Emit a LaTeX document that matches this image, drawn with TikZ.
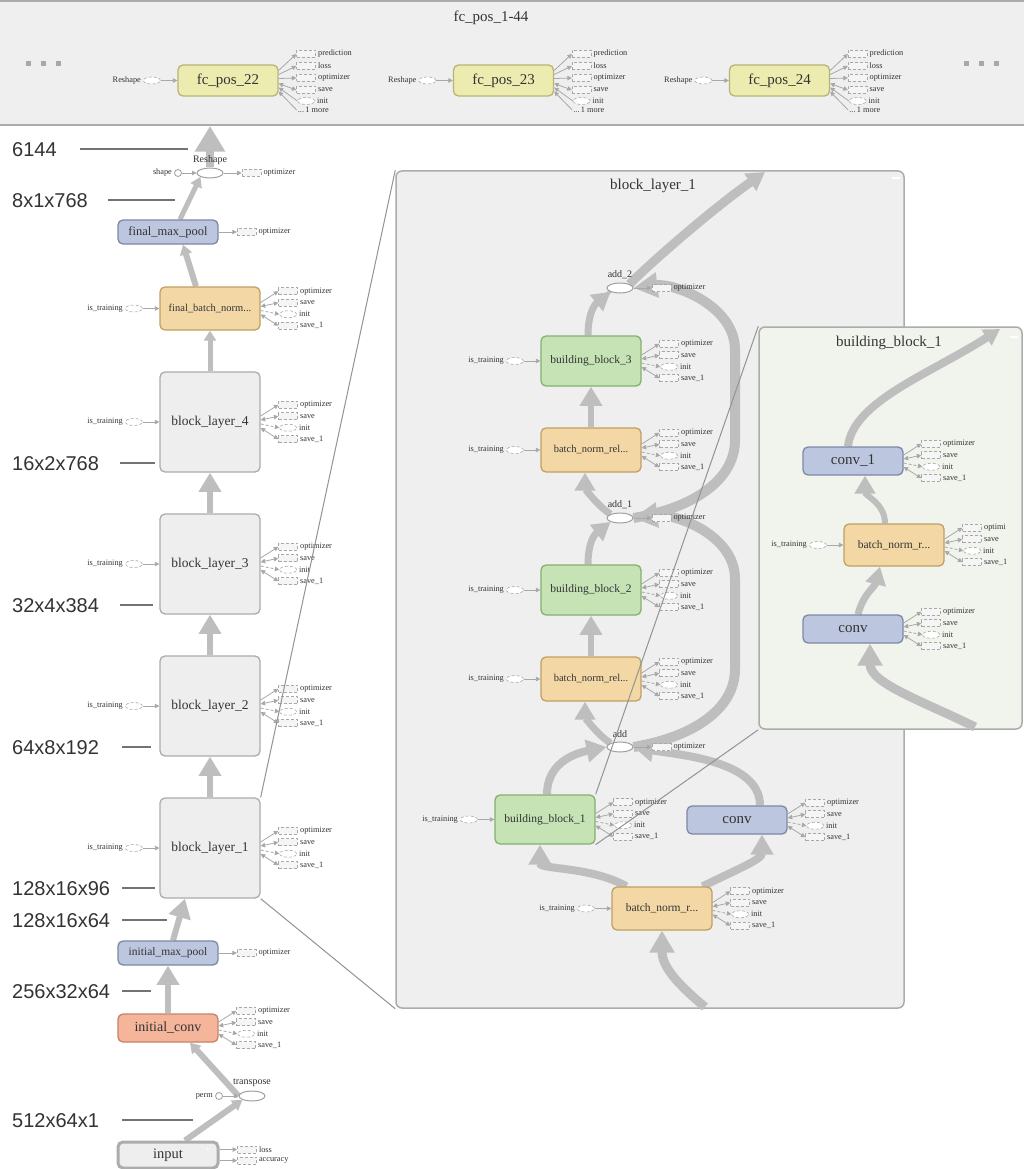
\documentclass[tikz,border=0pt]{standalone}
\usepackage{fontspec}
\setmainfont{Liberation Serif}
\newfontfamily\dimfont{Liberation Sans}
\usetikzlibrary{positioning,calc,arrows.meta,shapes.geometric}
\pgfdeclarelayer{back}
\pgfdeclarelayer{edges}
\pgfdeclarelayer{front}
\pgfsetlayers{back,edges,main,front}

\definecolor{edgegray}{RGB}{190,190,190}
\definecolor{auxgray}{RGB}{168,168,168}
\definecolor{textgray}{RGB}{51,51,51}
\definecolor{panelfill}{RGB}{239,239,239}
\definecolor{bbfill}{RGB}{240,244,237}
\definecolor{metafill}{RGB}{238,238,238}
\definecolor{metadraw}{RGB}{172,172,172}
\definecolor{bluefill}{RGB}{188,198,223}
\definecolor{bluedraw}{RGB}{124,137,166}
\definecolor{tanfill}{RGB}{243,216,165}
\definecolor{tandraw}{RGB}{192,160,100}
\definecolor{greenfill}{RGB}{197,227,181}
\definecolor{greendraw}{RGB}{134,176,110}
\definecolor{salmonfill}{RGB}{245,181,155}
\definecolor{salmondraw}{RGB}{200,130,103}
\definecolor{fcfill}{RGB}{236,236,176}
\definecolor{fcdraw}{RGB}{184,180,116}

\tikzset{
  opnode/.style={draw, rounded corners=5pt, line width=1.3pt, minimum width=100pt, inner sep=0pt, text=textgray},
  metaop/.style={opnode, fill=metafill, draw=metadraw, minimum height=100pt, font=\fontsize{13.5}{15}\selectfont},
  blueop/.style={opnode, fill=bluefill, draw=bluedraw},
  tanop/.style={opnode, fill=tanfill, draw=tandraw},
  greenop/.style={opnode, fill=greenfill, draw=greendraw},
  salmonop/.style={opnode, fill=salmonfill, draw=salmondraw},
  fcop/.style={opnode, fill=fcfill, draw=fcdraw, minimum height=31pt, font=\fontsize{15}{16}\selectfont},
  panel/.style={draw=metadraw, fill=panelfill, rounded corners=6pt, line width=1.5pt, inner sep=0pt},
  title/.style={font=\fontsize{15}{16}\selectfont, text=textgray, inner sep=0pt},
  opname/.style={font=\fontsize{10}{11}\selectfont, text=textgray, inner sep=0pt},
  auxbox/.style={draw=auxgray, densely dashed, fill=white!96!black, minimum width=19pt, minimum height=7pt, inner sep=0pt, line width=0.6pt},
  auxoval/.style={ellipse, draw=auxgray, densely dashed, fill=white, minimum width=17pt, minimum height=7pt, inner sep=0pt, line width=0.6pt},
  auxlbl/.style={font=\fontsize{8.3}{9}\selectfont, text=textgray, inner sep=1pt},
  auxarrow/.style={draw=auxgray, line width=0.8pt, >={Triangle[length=4.5pt,width=4.5pt]}},
  tipout/.style={->}, tipboth/.style={<->}, tipin/.style={<-},
  opoval/.style={ellipse, draw=gray!75, fill=white, minimum width=26pt, minimum height=10pt, inner sep=0pt, line width=1pt},
  constdot/.style={circle, draw=gray!75, fill=white, minimum size=7pt, inner sep=0pt, line width=0.8pt},
  flow/.style={draw=edgegray, line width=#1, -{Triangle[length=0pt 3.2, width=0pt 3.6]}},
  flow/.default=6pt,
  smallhead/.style={-{Triangle[length=10pt,width=12pt]}},
  dimlbl/.style={font=\dimfont\fontsize{20}{22}\selectfont, text=textgray, anchor=west, inner sep=0pt},
  dimline/.style={draw=gray!90!black, line width=1.5pt},
  zoomline/.style={draw=gray!85, line width=1pt},
}

% is_training style input on the left of a node
\newcommand{\feedin}[2]{%
  \node[auxoval] (#1-tr) at ($(#1.west)+(-25.5,0)$) {};
  \node[auxlbl, left=1pt of #1-tr] {#2};
  \draw[auxarrow, ->] (#1-tr) -- (#1.west);
}
% one optimizer output
\newcommand{\auxone}[1]{%
  \node[auxbox] (#1-opt) at ($(#1.east)+(28,0)$) {};
  \node[auxlbl, right=1pt of #1-opt] {optimizer};
  \draw[auxarrow, ->] (#1.east) -- (#1-opt.west);
}
% the four usual outputs
\newcommand{\auxfour}[2][optimizer]{%
  \foreach \auxname/\auxshape/\auxtip/\auxdash [count=\i from 0] in
    {#1/auxbox/tipout/solid, save/auxbox/tipboth/solid, init/auxoval/tipout/densely dashed, save\_1/auxbox/tipboth/solid}{%
    \node[\auxshape] (#2-a\i) at ($(#2.east)+(27.5,{(\i-1.5)*11.5})$) {};
    \node[auxlbl, right=1pt of #2-a\i] {\auxname};
    \draw[auxarrow, \auxtip, \auxdash] ($(#2.east)+(0,{(\i-1.5)*4})$) -- (#2-a\i.west);
  }%
}
% outputs of the fc_pos nodes
\newcommand{\auxfc}[1]{%
  \foreach \auxname/\auxshape/\auxtip/\auxdy/\auxsy [count=\i] in
    {prediction/auxbox/tipout/-26.5/-10, loss/auxbox/tipout/-14.5/-6, optimizer/auxbox/tipout/-2.5/-2,
     save/auxbox/tipboth/9.5/3, init/auxoval/tipin/20.5/7}{%
    \node[\auxshape] (#1-a\i) at ($(#1.east)+(27.5,\auxdy)$) {};
    \node[auxlbl, right=1pt of #1-a\i] {\auxname};
    \draw[auxarrow, \auxtip] ($(#1.east)+(0,\auxsy)$) -- (#1-a\i.west);
  }%
  \node[auxlbl, anchor=west] (#1-more) at ($(#1.east)+(18,29.5)$) {...\,1 more};
  \draw[auxarrow, <-] ($(#1.east)+(0,11)$) -- (#1-more.west);
}

\begin{document}
\begin{tikzpicture}[x=1pt,y=-1pt]
\useasboundingbox (0,0) rectangle (1024,1169);

% backgrounds
\begin{pgfonlayer}{back}
  \fill[white] (0,0) rectangle (1024,1169);
  \fill[panelfill] (0,1) rectangle (1024,125);
  \draw[metadraw, line width=2pt] (0,1) -- (1024,1) (0,125) -- (1024,125);
  \node[panel, minimum width=508pt, minimum height=837pt] (blpanel) at (650,589.5) {};
  \node[panel, fill=bbfill, minimum width=263pt, minimum height=402pt] (bbpanel) at (890.5,528) {};
\end{pgfonlayer}

\coordinate (bandbot) at (210,126);
\coordinate (blout) at (765,172);
\coordinate (blin) at (705,1007);
\coordinate (bbout) at (1000,329);
\coordinate (bbin) at (975,727);

% top band
\node[title] (bandtitle) at (491,18) {fc\_pos\_1-44};
\foreach \x in {28,43,58,966,981,996} \fill[auxgray] (\x-2.5,61.5) rectangle ++(5,5);
\node[fcop] (fc22) at (228,80.5) {fc\_pos\_22};
\node[fcop] (fc23) at (503.5,80.5) {fc\_pos\_23};
\node[fcop] (fc24) at (779.5,80.5) {fc\_pos\_24};
\foreach \n in {fc22,fc23,fc24} {\feedin{\n}{Reshape}\auxfc{\n}}

% tensor sizes
\foreach \dimtxt/\y/\xa/\xb [count=\k] in {6144/150/80/188, 8x1x768/201/108/175, 16x2x768/464/120/155,
    32x4x384/606/120/153, 64x8x192/748/122/151, 128x16x96/889/122/155, 128x16x64/921/122/167,
    256x32x64/992/122/151, 512x64x1/1121/122/193}{
  \node[dimlbl] (dim\k) at (12,\y) {\dimtxt};
  \draw[dimline] (\xa,\y-1) -- (\xb,\y-1);
}

% main column
\node[opoval] (reshape) at (210,173) {};
\node[opname] (reshapelbl) at (210,160) {Reshape};
\node[constdot] (shape) at (178,173) {};
\node[auxlbl, left=1pt of shape] (shapelbl) {shape};
\draw[auxarrow, ->] (shape) -- (reshape);
\auxone{reshape}

\node[blueop, minimum height=24pt, font=\fontsize{12.5}{14}\selectfont] (fmp) at (168,232) {final\_max\_pool};
\auxone{fmp}
\node[tanop, minimum height=43pt, font=\fontsize{10.5}{12}\selectfont] (fbn) at (210,308.5) {final\_batch\_norm...};
\feedin{fbn}{is\_training}
\auxfour{fbn}
\foreach \n/\y in {4/422,3/564,2/706,1/848}{
  \node[metaop] (bl\n) at (210,\y) {block\_layer\_\n};
  \feedin{bl\n}{is\_training}
  \auxfour{bl\n}
}
\node[blueop, minimum height=24pt, font=\fontsize{11.5}{13}\selectfont] (imp) at (168,953) {initial\_max\_pool};
\auxone{imp}
\node[salmonop, minimum height=28pt, font=\fontsize{14}{15}\selectfont] (ic) at (168,1028) {initial\_conv};
\auxfour{ic}
\node[opoval] (transpose) at (252,1096) {};
\node[opname] (transposelbl) at (252,1083) {transpose};
\node[constdot] (perm) at (219,1096) {};
\node[auxlbl, left=1pt of perm] (permlbl) {perm};
\draw[auxarrow, ->] (perm) -- (transpose);
\node[metaop, minimum height=26pt, line width=3pt, draw=gray!65, font=\fontsize{14.5}{16}\selectfont] (input) at (168,1155) {input};
\node[text=white, font=\fontsize{9}{9}\selectfont, inner sep=0pt] (inputplus) at (208,1150) {+};
\foreach \auxname/\dy [count=\i] in {loss/-5.5, accuracy/5.5}{
  \node[auxbox] (input-a\i) at ($(input.east)+(27.5,\dy)$) {};
  \node[auxlbl, right=1pt of input-a\i] {\auxname};
  \draw[auxarrow, ->] ($(input.east)+(0,\dy)$) -- (input-a\i.west);
}

% block_layer_1 panel
\node[title] (bltitle) at (653,186) {block\_layer\_1};
\draw[white, line width=1.5pt] (892,178) -- (900,178);
\node[opoval] (add2) at (620,288) {};
\node[opname] (add2lbl) at (620,275) {add\_2};
\auxone{add2}
\node[greenop, minimum height=50pt, font=\fontsize{11.5}{13}\selectfont] (bb3) at (591,361) {building\_block\_3};
\feedin{bb3}{is\_training}
\auxfour{bb3}
\node[tanop, minimum height=44pt, font=\fontsize{10.5}{12}\selectfont] (bnrA) at (591,450) {batch\_norm\_rel...};
\feedin{bnrA}{is\_training}
\auxfour{bnrA}
\node[opoval] (add1) at (620,518) {};
\node[opname] (add1lbl) at (620,505) {add\_1};
\auxone{add1}
\node[greenop, minimum height=50pt, font=\fontsize{11.5}{13}\selectfont] (bb2) at (591,590) {building\_block\_2};
\feedin{bb2}{is\_training}
\auxfour{bb2}
\node[tanop, minimum height=44pt, font=\fontsize{10.5}{12}\selectfont] (bnrB) at (591,679) {batch\_norm\_rel...};
\feedin{bnrB}{is\_training}
\auxfour{bnrB}
\node[opoval] (add) at (620,747) {};
\node[opname] (addlbl) at (620,734) {add};
\auxone{add}
\node[greenop, minimum height=49pt, font=\fontsize{11.5}{13}\selectfont] (bb1) at (545,819.5) {building\_block\_1};
\feedin{bb1}{is\_training}
\auxfour{bb1}
\node[blueop, minimum height=28pt, font=\fontsize{15}{16}\selectfont] (convA) at (737,820) {conv};
\auxfour{convA}
\node[tanop, minimum height=43pt, font=\fontsize{11.5}{13}\selectfont] (bnrC) at (662,908.5) {batch\_norm\_r...};
\feedin{bnrC}{is\_training}
\auxfour{bnrC}

% building_block_1 panel
\node[title] (bbtitle) at (889,343) {building\_block\_1};
\draw[white, line width=1.5pt] (1010,337) -- (1018,337);
\node[blueop, minimum height=28pt, font=\fontsize{15}{16}\selectfont] (conv1) at (853,461) {conv\_1};
\auxfour{conv1}
\node[tanop, minimum height=42pt, font=\fontsize{11.5}{13}\selectfont] (bnrD) at (894,545) {batch\_norm\_r...};
\feedin{bnrD}{is\_training}
\auxfour[optimi]{bnrD}
\node[blueop, minimum height=28pt, font=\fontsize{15}{16}\selectfont] (conv0) at (853,629) {conv};
\auxfour{conv0}

% data flow
\begin{pgfonlayer}{edges}
  \draw[flow=8pt] (reshape.north) -- (bandbot);
  \draw[flow=5pt, smallhead] ([xshift=12pt]fmp.north) -- (reshape.south west);
  \draw[flow=6pt, smallhead] ([xshift=-14pt]fbn.north) -- ([xshift=15pt]fmp.south);
  \draw[flow=5pt, smallhead] (bl4.north) -- (fbn.south);
  \draw[flow] (bl3.north) -- (bl4.south);
  \draw[flow] (bl2.north) -- (bl3.south);
  \draw[flow] (bl1.north) -- (bl2.south);
  \draw[flow] ([xshift=5pt]imp.north) -- ([xshift=-25pt]bl1.south);
  \draw[flow] (ic.north) -- (imp.south);
  \draw[flow=6pt, smallhead] (transpose.west) -- ([xshift=22pt]ic.south);
  \draw[flow=6pt, smallhead] ([xshift=17pt]input.north) -- (transpose.south west);

  \draw[flow=9pt, -{Triangle[length=18pt,width=20pt]}] (add2.north east) .. controls +(25,-25) and +(-50,35) .. (blout);
  \draw[flow=7pt, -{Triangle[length=18pt,width=20pt]}] ([xshift=-3pt]bb3.north) .. controls +(0,-30) and +(-10,8) .. (add2.south west);
  \draw[flow] (bnrA.north) -- (bb3.south);
  \draw[flow=7pt, -{Triangle[length=18pt,width=20pt]}] (add1.north west) .. controls +(-15,-10) and +(0,15) .. ([xshift=-6pt]bnrA.south);
  \draw[flow=10pt, -{Triangle[length=24pt,width=24pt]}] (add1.east) .. controls +(60,-10) and +(0,40) .. (735,440) -- (735,350) .. controls +(0,-45) and +(40,-5) .. (add2.east);
  \draw[flow=7pt, -{Triangle[length=18pt,width=20pt]}] ([xshift=-3pt]bb2.north) .. controls +(0,-30) and +(-10,8) .. (add1.south west);
  \draw[flow] (bnrB.north) -- (bb2.south);
  \draw[flow=7pt, -{Triangle[length=18pt,width=20pt]}] (add.north west) .. controls +(-15,-10) and +(0,15) .. ([xshift=-6pt]bnrB.south);
  \draw[flow=10pt, -{Triangle[length=24pt,width=24pt]}] (add.east) .. controls +(60,-10) and +(0,40) .. (735,669) -- (735,579) .. controls +(0,-45) and +(40,-5) .. (add1.east);
  \draw[flow=8pt, -{Triangle[length=20pt,width=22pt]}] ([xshift=2pt]bb1.north) .. controls +(0,-35) and +(-25,5) .. (add.west);
  \draw[flow=8pt, -{Triangle[length=20pt,width=22pt]}] ([xshift=23pt]convA.north) .. controls +(0,-45) and +(45,8) .. (add.east);
  \draw[flow=8pt, -{Triangle[length=20pt,width=22pt]}] ([xshift=15pt]bnrC.north west) .. controls +(-35,-20) and +(0,25) .. ([xshift=-5pt]bb1.south);
  \draw[flow=8pt, -{Triangle[length=20pt,width=22pt]}] ([xshift=-10pt]bnrC.north east) .. controls +(30,-15) and +(0,25) .. ([xshift=25pt]convA.south);
  \draw[flow=9pt, -{Triangle[length=22pt,width=24pt]}] (blin) .. controls +(-30,-25) and +(0,35) .. (bnrC.south);

  \draw[flow=9pt, -{Triangle[length=22pt,width=24pt]}] (bbin) .. controls +(-50,-25) and +(0,40) .. ([xshift=17pt]conv0.south);
  \draw[flow=7pt, -{Triangle[length=18pt,width=20pt]}] ([xshift=5pt]conv0.north) .. controls +(5,-20) and +(-5,20) .. ([xshift=-14pt]bnrD.south);
  \draw[flow=6pt, -{Triangle[length=18pt,width=20pt]}] ([xshift=-9pt]bnrD.north) .. controls +(0,-20) and +(0,20) .. ([xshift=12pt]conv1.south);
  \draw[flow=8pt, -{Triangle[length=16pt,width=18pt]}] ([xshift=-5pt]conv1.north) .. controls +(5,-45) and +(-70,45) .. (bbout);
\end{pgfonlayer}

% expansion lines
\begin{pgfonlayer}{front}
  \draw[zoomline] (bl1.north east) -- (blpanel.north west);
  \draw[zoomline] (bl1.south east) -- (blpanel.south west);
  \draw[zoomline] (bb1.north east) -- (bbpanel.north west);
  \draw[zoomline] (bb1.south east) -- (bbpanel.south west);
\end{pgfonlayer}
\end{tikzpicture}
\end{document}
